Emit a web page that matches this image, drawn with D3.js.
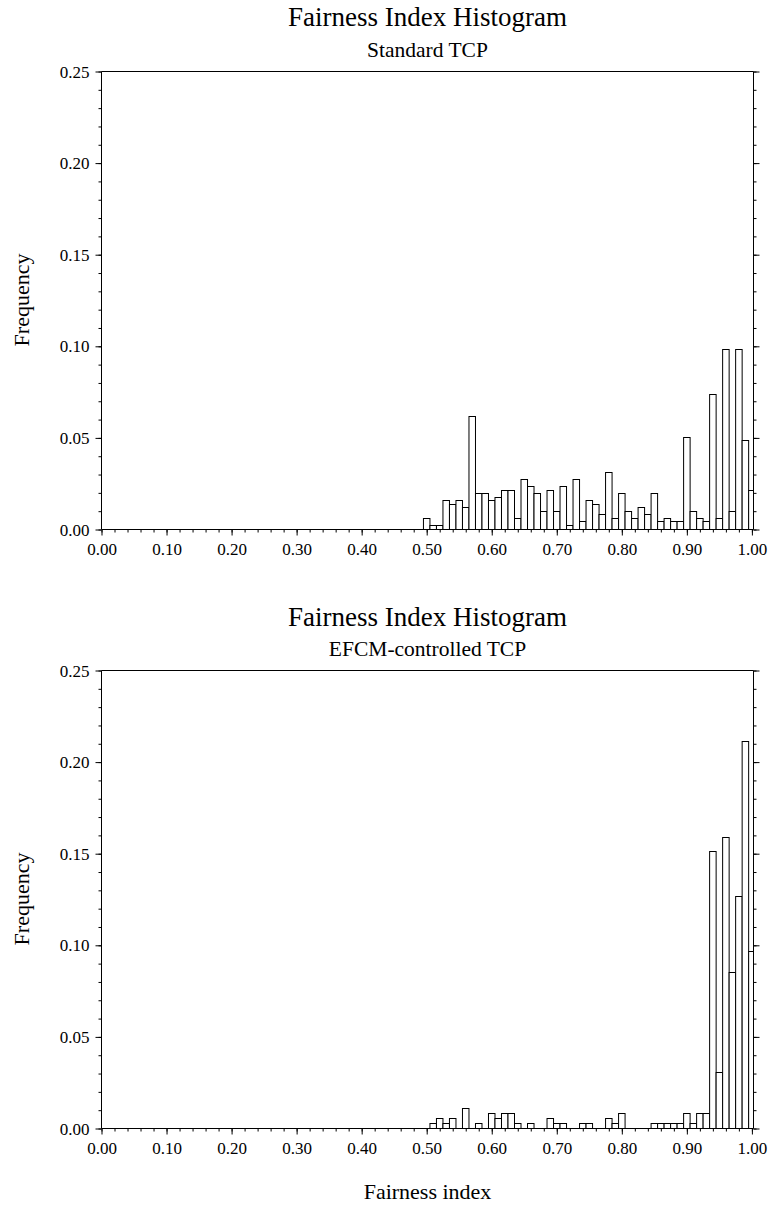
<!DOCTYPE html>
<html><head><meta charset="utf-8">
<script src="https://cdn.jsdelivr.net/npm/d3@7"></script>
<style>
body{margin:0;background:#fff}
svg text{font-family:"Liberation Serif","Times New Roman",serif !important;fill:#000}
</style>
</head><body>
<svg id="c" width="769" height="1207"></svg>
<script>
// ---- data ----
const binCenters = [0.50,0.51,0.52,0.53,0.54,0.55,0.56,0.57,0.58,0.59,
  0.60,0.61,0.62,0.63,0.64,0.65,0.66,0.67,0.68,0.69,
  0.70,0.71,0.72,0.73,0.74,0.75,0.76,0.77,0.78,0.79,
  0.80,0.81,0.82,0.83,0.84,0.85,0.86,0.87,0.88,0.89,
  0.90,0.91,0.92,0.93,0.94,0.95,0.96,0.97,0.98,0.99,1.00];
const binWidth = 0.01;
const standardTCP = [0.006,0.0022,0.0022,0.0156,0.0136,0.0156,0.0118,0.0619,0.0195,0.0195,
  0.0156,0.0176,0.0215,0.0215,0.006,0.0271,0.0233,0.0195,0.010,0.0215,
  0.010,0.0233,0.0022,0.0271,0.0042,0.0156,0.0136,0.008,0.0309,0.006,
  0.0195,0.010,0.006,0.0118,0.008,0.0195,0.0042,0.006,0.0042,0.0042,
  0.0504,0.010,0.006,0.0042,0.0735,0.006,0.0984,0.010,0.0984,0.0484,0.0215];
const efcmTCP = [0,0.0027,0.0055,0.0027,0.0055,0,0.0109,0,0.0027,0,
  0.0082,0.0055,0.0082,0.0082,0.0027,0,0.0027,0,0,0.0055,
  0.0027,0.0027,0,0,0.0027,0.0027,0,0,0.0055,0.0027,
  0.0082,0,0,0,0,0.0027,0.0027,0.0027,0.0027,0.0027,
  0.0082,0.0027,0.0082,0.0082,0.151,0.0304,0.159,0.0852,0.1265,0.2114,0.0964];
const xMajorTicks = [0,0.1,0.2,0.3,0.4,0.5,0.6,0.7,0.8,0.9,1.0];
const xMinorTicks = d3.range(0,51).map(i=>i*0.02);
const yMajorTicks = [0,0.05,0.10,0.15,0.20,0.25];
const yMinorTicks = d3.range(0,26).map(i=>i*0.01);
const mainTitle = "Fairness Index Histogram";
const subTitles = ["Standard TCP","EFCM-controlled TCP"];
const yLabel = "Frequency";
const xLabel = "Fairness index";

// ---- layout ----
const FONT = '"Liberation Serif","Times New Roman",serif';
const svg = d3.select("#c");
const x = d3.scaleLinear().domain([0,1.004]).range([101,754]);
const panels = [
  {data: standardTCP, sub: subTitles[0], top: 71, bottom: 529, titleY: 26, subY: 57},
  {data: efcmTCP, sub: subTitles[1], top: 670, bottom: 1128, titleY: 626, subY: 656}
];
const fmt = d3.format(".2f");

panels.forEach((p, pi) => {
  const y = d3.scaleLinear().domain([0,0.25]).range([p.bottom, p.top]);
  const g = svg.append("g");
  const cid = "clip"+pi;
  svg.append("clipPath").attr("id", cid).append("rect")
    .attr("x", x(0)).attr("y", p.top-2).attr("width", x(1.004)-x(0)).attr("height", p.bottom-p.top+2);

  // bars
  const bars = binCenters.map((c,i)=>({c, v:p.data[i]})).filter(d=>d.v>0);
  g.append("g").attr("clip-path", `url(#${cid})`)
    .selectAll("rect").data(bars).join("rect")
    .attr("x", d=>x(d.c-binWidth/2)+0.5)
    .attr("width", d=>x(d.c+binWidth/2)-x(d.c-binWidth/2))
    .attr("y", d=>Math.round(y(d.v))+0.5)
    .attr("height", d=>Math.round(p.bottom)-Math.round(y(d.v)))
    .attr("fill","#fff").attr("stroke","#000").attr("stroke-width",1);

  // axes
  const xl = Math.round(x(0))+0.5, xr = Math.round(x(1.004))-0.5;
  const yt = p.top+0.5, yb = p.bottom+0.5;
  const la = g.append("g").attr("transform",`translate(${xl},0.5)`)
    .call(d3.axisLeft(y).tickValues(yMajorTicks).tickSize(6).tickPadding(6).tickFormat(fmt));
  la.attr("font-family", FONT).attr("font-size", 17);
  la.selectAll("text").attr("dy","0.33em");
  g.append("g").attr("transform",`translate(${xl},0.5)`)
    .call(d3.axisLeft(y).tickValues(yMinorTicks).tickSize(3).tickFormat(""));
  g.append("g").attr("transform",`translate(${xr},0.5)`)
    .call(d3.axisRight(y).tickValues(yMajorTicks).tickSize(6).tickFormat(""));
  g.append("g").attr("transform",`translate(${xr},0.5)`)
    .call(d3.axisRight(y).tickValues(yMinorTicks).tickSize(3).tickFormat(""));
  const ba = g.append("g").attr("transform",`translate(0.5,${yb})`)
    .call(d3.axisBottom(x).tickValues(xMajorTicks).tickSize(6).tickFormat(fmt));
  ba.attr("font-family", FONT).attr("font-size", 17);
  ba.selectAll("text").attr("y",25).attr("dy",null);
  g.append("g").attr("transform",`translate(0.5,${yb})`)
    .call(d3.axisBottom(x).tickValues(xMinorTicks).tickSize(3).tickFormat(""));
  g.selectAll(".domain").remove();
  g.selectAll(".tick line").attr("stroke","#000");
  g.selectAll(".tick text").attr("fill","#000").attr("font-family", FONT);

  // frame
  g.append("path").attr("d",`M${xl},${yt}H${xr}V${yb}H${xl}Z`)
    .attr("fill","none").attr("stroke","#000").attr("stroke-width",1);

  // titles
  const cx = (x(0)+x(1.004))/2;
  svg.append("text").attr("x",cx).attr("y",p.titleY).attr("text-anchor","middle")
    .attr("font-family", FONT).style("font-size","27px").text(mainTitle);
  svg.append("text").attr("x",cx).attr("y",p.subY).attr("text-anchor","middle")
    .attr("font-family", FONT).style("font-size","21.5px").text(p.sub);
  svg.append("text").attr("transform",`translate(29,${(p.top+p.bottom)/2}) rotate(-90)`)
    .attr("font-family", FONT).attr("text-anchor","middle").style("font-size","22px").text(yLabel);
});

svg.append("text").attr("x",(x(0)+x(1.004))/2).attr("y",1199).attr("text-anchor","middle")
  .attr("font-family", FONT).style("font-size","22px").text(xLabel);
</script>
</body></html>
